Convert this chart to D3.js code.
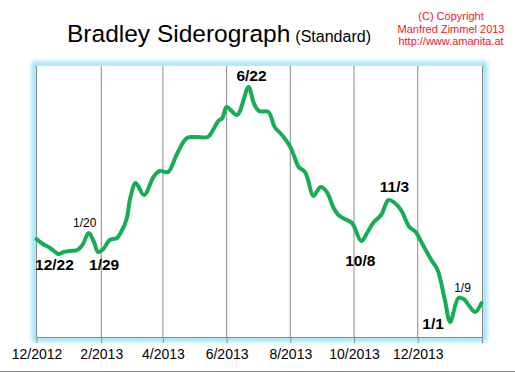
<!DOCTYPE html>
<html>
<head>
<meta charset="utf-8">
<script src="https://cdn.jsdelivr.net/npm/d3@7"></script>
<style>
  body { margin: 0; background: #fff; }
  svg { display: block; font-family: Arial, "Liberation Sans", sans-serif; }
</style>
</head>
<body>
<div id="chart"></div>
<script>
// ─── DATA ───────────────────────────────────────────────────────────────────────
// dates of the curve points
const dates = [
  '2012-12-01','2012-12-07','2012-12-14','2012-12-22','2012-12-27','2013-01-02','2013-01-09',
  '2013-01-14','2013-01-20','2013-01-25','2013-01-29','2013-02-03','2013-02-09','2013-02-16',
  '2013-02-20','2013-02-25','2013-03-01','2013-03-06','2013-03-14','2013-03-23','2013-03-29',
  '2013-04-06','2013-04-14','2013-04-24','2013-05-03','2013-05-14','2013-05-19','2013-05-24',
  '2013-05-28','2013-06-01','2013-06-11','2013-06-22','2013-06-27','2013-07-02','2013-07-11',
  '2013-07-17','2013-07-24','2013-08-01','2013-08-05','2013-08-09','2013-08-15','2013-08-18',
  '2013-08-23','2013-08-30','2013-09-05','2013-09-11','2013-09-16','2013-09-22','2013-09-29',
  '2013-10-08','2013-10-14','2013-10-20','2013-10-27','2013-11-03','2013-11-09','2013-11-15',
  '2013-11-23','2013-11-29','2013-12-06','2013-12-14','2013-12-20','2013-12-27','2014-01-01',
  '2014-01-09','2014-01-14','2014-01-18','2014-01-25','2014-01-31'
];
// siderograph index (arbitrary units, no y axis in the original)
const values = [
  98, 93, 89, 83, 85, 86, 87,
  92, 104, 95, 85, 88, 97, 99,
  105, 117, 140, 154, 142, 160, 166,
  165, 182, 199, 200, 200, 207, 216,
  219, 230, 222, 250, 234, 226, 225,
  210, 202, 190, 180, 170, 165, 157,
  141, 150, 145, 130, 122, 118, 114,
  96, 105, 115, 122, 137, 134, 127,
  110, 105, 92, 77, 67, 37, 15,
  39, 38, 33, 25, 34
];
// x tick labels
const tickDates = ['2012-12-01','2013-02-01','2013-04-01','2013-06-01','2013-08-01','2013-10-01','2013-12-01'];
const tickLabels = ['12/2012','2/2013','4/2013','6/2013','8/2013','10/2013','12/2013'];
// turning point labels
const noteDates  = ['2012-12-22','2013-01-20','2013-01-29','2013-06-22','2013-10-08','2013-11-03','2014-01-01','2014-01-09'];
const noteLabels = ['12/22','1/20','1/29','6/22','10/8','11/3','1/1','1/9'];
const noteBold   = [true, false, true, true, true, true, true, false];
const noteY      = [270, 226.7, 270, 81, 265.7, 192, 329, 291.7];
const noteDx     = [-4, -4, 6, 3, -1, 6, -17, 4];

// ─── LAYOUT ─────────────────────────────────────────────────────────────────────
const W = 515, H = 373;
const margin = {top: 66, bottom: 36, left: 36.5, right: 32.5};
const width = W - margin.left - margin.right;
const height = H - margin.top - margin.bottom;

const parse = d3.utcParse('%Y-%m-%d');
const data = dates.map((d, i) => ({date: parse(d), value: values[i]}));

const svg = d3.select('#chart').append('svg')
  .attr('width', W).attr('height', H);

// glow filter for the plot frame
const defs = svg.append('defs');
const f = defs.append('filter').attr('id', 'glow')
  .attr('x', '-10%').attr('y', '-10%').attr('width', '120%').attr('height', '120%');
f.append('feGaussianBlur').attr('stdDeviation', 2);

// ─── TITLE ──────────────────────────────────────────────────────────────────────
const title = svg.append('text').attr('x', 67).attr('y', 42).attr('fill', '#000');
title.append('tspan').style('font-size', '24.5px').text('Bradley Siderograph');
title.append('tspan').style('font-size', '16px').attr('dx', 5).text('(Standard)');

const copy = ['(C) Copyright', 'Manfred Zimmel  2013', 'http://www.amanita.at'];
svg.append('g').selectAll('text').data(copy).join('text')
  .attr('x', 451).attr('y', (d, i) => 20 + i * 12.5)
  .attr('text-anchor', 'middle')
  .attr('fill', '#f5142a')
  .style('font-size', '11px')
  .text(d => d);

// ─── SCALES ─────────────────────────────────────────────────────────────────────
const x = d3.scaleUtc()
  .domain([parse('2012-12-01'), parse('2014-02-01')])
  .range([0, width]);
const y = d3.scaleLinear().domain([0, 271]).range([height, 0]);

const g = svg.append('g').attr('transform', `translate(${margin.left},${margin.top})`);

// frame glow + white plot
g.append('rect')
  .attr('x', -2).attr('y', -2).attr('width', width + 4).attr('height', height + 4)
  .attr('fill', 'none').attr('stroke', '#8fe0f8').attr('stroke-width', 5)
  .attr('filter', 'url(#glow)');
g.append('rect').attr('width', width).attr('height', height).attr('fill', '#fff');

// vertical grid lines
g.append('g').selectAll('line').data(tickDates).join('line')
  .attr('x1', d => x(parse(d))).attr('x2', d => x(parse(d)))
  .attr('y1', 0).attr('y2', height)
  .attr('stroke', '#8a8a8a').attr('stroke-width', 1);
g.append('line').attr('x1', width).attr('x2', width).attr('y1', 0).attr('y2', height + 6)
  .attr('stroke', '#8a8a8a');

// ─── AXIS ───────────────────────────────────────────────────────────────────────
const xAxis = d3.axisBottom(x)
  .tickValues(tickDates.map(parse))
  .tickFormat((d, i) => tickLabels[i])
  .tickSize(6).tickSizeOuter(0).tickPadding(6);
const ax = g.append('g').attr('transform', `translate(0,${height})`).call(xAxis);
ax.select('.domain').attr('stroke', '#8a8a8a');
ax.selectAll('.tick line').attr('stroke', '#8a8a8a');
ax.selectAll('.tick text')
  .attr('fill', '#000')
  .style('font-size', '14px')
  .style('font-family', 'Arial, "Liberation Sans", sans-serif');

// ─── LINE ───────────────────────────────────────────────────────────────────────
const line = d3.line()
  .x(d => x(d.date)).y(d => y(d.value))
  .curve(d3.curveCatmullRom.alpha(0.5));
g.append('path').datum(data)
  .attr('d', line)
  .attr('fill', 'none')
  .attr('stroke', '#16ad55')
  .attr('stroke-width', 4)
  .attr('stroke-linejoin', 'round')
  .attr('stroke-linecap', 'round');

// ─── TURNING POINT LABELS ───────────────────────────────────────────────────────
svg.append('g').selectAll('text').data(noteDates).join('text')
  .attr('x', (d, i) => margin.left + x(parse(d)) + noteDx[i])
  .attr('y', (d, i) => noteY[i])
  .attr('text-anchor', 'middle')
  .attr('fill', '#000')
  .style('font-weight', (d, i) => noteBold[i] ? 'bold' : 'normal')
  .style('font-size', (d, i) => noteBold[i] ? '15.5px' : '12px')
  .text((d, i) => noteLabels[i]);

// bottom rule
svg.append('line').attr('x1', 0).attr('x2', W).attr('y1', 371.5).attr('y2', 371.5)
  .attr('stroke', '#8a8a8a');
</script>
</body>
</html>
